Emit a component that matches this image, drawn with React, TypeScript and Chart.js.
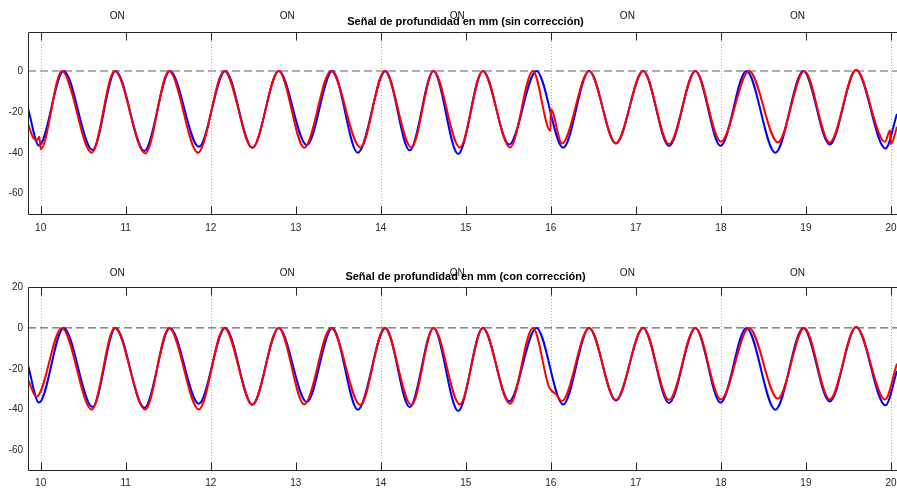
import React, { useEffect, useRef } from "react";
import { Chart, registerables } from "chart.js";

Chart.register(...registerables);

// ---------- data ----------
const X_MIN = 9.851;
const X_MAX = 20.071;
const xTickValues = [10, 11, 12, 13, 14, 15, 16, 17, 18, 19, 20];
const markerLines = [10, 12, 14, 16, 18, 20];
const onLabelX = [10.9, 12.9, 14.9, 16.9, 18.9];
const onLabelText = "ON";
const topYTicks = [-60, -40, -20, 0];
const bottomYTicks = [-60, -40, -20, 0, 20];
const topTitle = "Señal de profundidad en mm (sin corrección)";
const bottomTitle = "Señal de profundidad en mm (con corrección)";

// blue signal (same in both panels)
const blueT = [9.851, 9.98, 10.27, 10.61, 10.88, 11.22, 11.52, 11.86, 12.17, 12.49, 12.8, 13.13, 13.43, 13.73, 14.055, 14.34, 14.62, 14.91, 15.2, 15.51, 15.83, 16.145, 16.45, 16.765, 17.086, 17.39, 17.7, 17.996, 18.3, 18.64, 18.97, 19.28, 19.59, 19.935, 20.071];
const blueV = [-18.3, -36.5, 0, -38.7, 0, -39.1, 0, -37.1, 0, -37.6, 0, -36.2, 0, -40, 0, -38.8, 0, -40.6, 0, -35.9, 0, -37.5, 0, -35.5, 0, -36.7, 0, -36.6, 0, -40, 0, -36, 0.4, -37.9, -21];

// red signal, panel without correction
const redTopT = [9.851, 9.91, 9.955, 9.985, 10.0, 10.25, 10.6, 10.87, 11.23, 11.51, 11.85, 12.16, 12.49, 12.8, 13.1, 13.415, 13.76, 14.045, 14.36, 14.62, 14.93, 15.2, 15.52, 15.79, 15.995, 16.0, 16.13, 16.45, 16.765, 17.086, 17.39, 17.7, 18.0, 18.33, 18.67, 18.98, 19.28, 19.59, 19.93, 19.99, 20.0, 20.071];
const redTopV = [-25.7, -32.5, -33.8, -32.2, -38.3, 0, -40, 0, -40.3, 0, -40, 0, -37.6, 0, -37.5, 0, -37.4, 0, -37.4, 0, -37.4, 0, -37.4, 0, -29.3, -18.7, -35.4, 0, -35.4, 0, -35.8, 0, -34.6, 0, -34.9, 0, -35, 0.4, -34.6, -29, -35.8, -27.3];

// red signal, panel with correction
const redBotT = [9.851, 9.95, 10.25, 10.6, 10.87, 11.23, 11.51, 11.86, 12.16, 12.49, 12.8, 13.1, 13.415, 13.76, 14.045, 14.36, 14.62, 14.93, 15.2, 15.52, 15.79, 15.98, 16.06, 16.13, 16.45, 16.765, 17.086, 17.39, 17.7, 18.0, 18.33, 18.67, 18.98, 19.28, 19.59, 19.93, 20.071];
const redBotV = [-25.2, -33.7, 0, -39.9, 0, -39.9, 0, -39.9, 0, -37.6, 0, -37.4, 0, -37.7, 0, -37.7, 0, -37.4, 0, -37.1, 0, -29, -32.4, -35.8, 0, -35.3, 0, -35.3, 0, -35, 0, -34.6, 0, -35, 0.4, -35, -17.5];

const FONT = "'Liberation Sans', Arial, Helvetica, sans-serif";
const INK = "#262626";

type PanelProps = {
  title: string;
  redT: number[];
  redV: number[];
  yMin: number;
  yMax: number;
  yTicks: number[];
  padTop: number;
  xAxisH: number;
  xLabelPad: number;
  onOffset: number;
  zeroColor: string;
  zeroWidth: number;
  zeroDash: number[];
};

function pts(t: number[], v: number[]) {
  return t.map((x, i) => ({ x, y: v[i] }));
}

function Panel(p: PanelProps) {
  const ref = useRef<HTMLCanvasElement | null>(null);
  useEffect(() => {
    if (!ref.current) return;
    const decor = {
      id: "decor",
      beforeDatasetsDraw(chart: any) {
        const { ctx, chartArea } = chart;
        const xs = chart.scales.x;
        ctx.save();
        ctx.strokeStyle = "rgba(255,90,90,0.7)";
        ctx.lineWidth = 1;
        ctx.setLineDash([1, 2]);
        markerLines.forEach((v) => {
          const px = Math.round(xs.getPixelForValue(v)) + 0.5;
          ctx.beginPath();
          ctx.moveTo(px, chartArea.top);
          ctx.lineTo(px, chartArea.bottom);
          ctx.stroke();
        });
        ctx.restore();
      },
      afterDatasetsDraw(chart: any) {
        const { ctx, chartArea } = chart;
        const xs = chart.scales.x;
        const L = Math.round(chartArea.left) + 0.5;
        const T = Math.round(chartArea.top) + 0.5;
        const B = Math.round(chartArea.bottom) - 0.5;
        ctx.save();
        ctx.strokeStyle = INK;
        ctx.lineWidth = 1;
        ctx.setLineDash([]);
        ctx.beginPath();
        ctx.moveTo(chartArea.right, T);
        ctx.lineTo(L, T);
        ctx.lineTo(L, B);
        ctx.lineTo(chartArea.right, B);
        ctx.stroke();
        xTickValues.forEach((v) => {
          const px = Math.round(xs.getPixelForValue(v)) + 0.5;
          ctx.beginPath();
          ctx.moveTo(px, T);
          ctx.lineTo(px, T + 8);
          ctx.moveTo(px, B);
          ctx.lineTo(px, B - 8);
          ctx.stroke();
        });
        ctx.fillStyle = "#111";
        ctx.font = `10px ${FONT}`;
        ctx.textAlign = "center";
        ctx.textBaseline = "middle";
        onLabelX.forEach((v) => {
          ctx.fillText(onLabelText, xs.getPixelForValue(v), chartArea.top - p.onOffset);
        });
        ctx.fillStyle = "#000";
        ctx.font = `bold 11px ${FONT}`;
        ctx.fillText(p.title, (chartArea.left + chartArea.right) / 2 + 3, chartArea.top - 10);
        ctx.restore();
      },
    };
    const chart = new Chart(ref.current, {
      type: "line",
      data: {
        datasets: [
          {
            data: pts(p.redT, p.redV),
            borderColor: "#ff0000",
            borderWidth: 2,
            pointRadius: 0,
            cubicInterpolationMode: "monotone",
            fill: false,
            order: 1,
          },
          {
            data: pts(blueT, blueV),
            borderColor: "#0000ff",
            borderWidth: 2,
            pointRadius: 0,
            cubicInterpolationMode: "monotone",
            fill: false,
            order: 2,
          },
          {
            data: [
              { x: X_MIN, y: 0 },
              { x: X_MAX, y: 0 },
            ],
            borderColor: p.zeroColor,
            borderWidth: p.zeroWidth,
            borderDash: p.zeroDash,
            pointRadius: 0,
            fill: false,
            order: 3,
          },
        ],
      },
      options: {
        responsive: false,
        animation: false,
        devicePixelRatio: 1,
        layout: { padding: { top: p.padTop, left: 0, right: 0, bottom: 0 } },
        plugins: {
          legend: { display: false },
          title: { display: false },
          tooltip: { enabled: false },
        },
        scales: {
          x: {
            type: "linear",
            min: X_MIN,
            max: X_MAX,
            grid: { display: false, drawTicks: false },
            border: { display: false },
            ticks: {
              color: INK,
              font: { family: FONT, size: 10 },
              padding: p.xLabelPad,
              autoSkip: false,
              maxRotation: 0,
              callback: (v: any) => String(v),
            },
            afterBuildTicks: (s: any) => {
              s.ticks = xTickValues.map((v) => ({ value: v }));
            },
            afterFit: (s: any) => {
              s.height = p.xAxisH;
              s.paddingLeft = 0;
              s.paddingRight = 0;
              s.paddingTop = 0;
              s.paddingBottom = 0;
            },
          },
          y: {
            type: "linear",
            min: p.yMin,
            max: p.yMax,
            grid: { display: false, drawTicks: false },
            border: { display: false },
            ticks: {
              color: INK,
              font: { family: FONT, size: 10 },
              padding: 5,
              callback: (v: any) => String(v),
            },
            afterBuildTicks: (s: any) => {
              s.ticks = p.yTicks.map((v) => ({ value: v }));
            },
            afterFit: (s: any) => {
              s.width = 28;
              s.paddingLeft = 0;
              s.paddingRight = 0;
              s.paddingTop = 0;
              s.paddingBottom = 0;
            },
          },
        },
      } as any,
      plugins: [decor],
    } as any);
    return () => chart.destroy();
  }, []);
  return <canvas ref={ref} width={897} height={247} style={{ display: "block", width: 897, height: 247 }} />;
}

export default function App() {
  return (
    <div style={{ position: "absolute", left: 0, top: 0, width: 897, height: 494, background: "#fff" }}>
      <Panel
        title={topTitle}
        redT={redTopT}
        redV={redTopV}
        yMin={-70.4}
        yMax={19}
        yTicks={topYTicks}
        padTop={32}
        xAxisH={32}
        xLabelPad={7}
        onOffset={15.5}
        zeroColor="#b0b0b0"
        zeroWidth={2}
        zeroDash={[8, 4]}
      />
      <Panel
        title={bottomTitle}
        redT={redBotT}
        redV={redBotV}
        yMin={-70}
        yMax={20}
        yTicks={bottomYTicks}
        padTop={40}
        xAxisH={23}
        xLabelPad={6}
        onOffset={13.5}
        zeroColor="#404040"
        zeroWidth={1}
        zeroDash={[8, 4]}
      />
    </div>
  );
}
